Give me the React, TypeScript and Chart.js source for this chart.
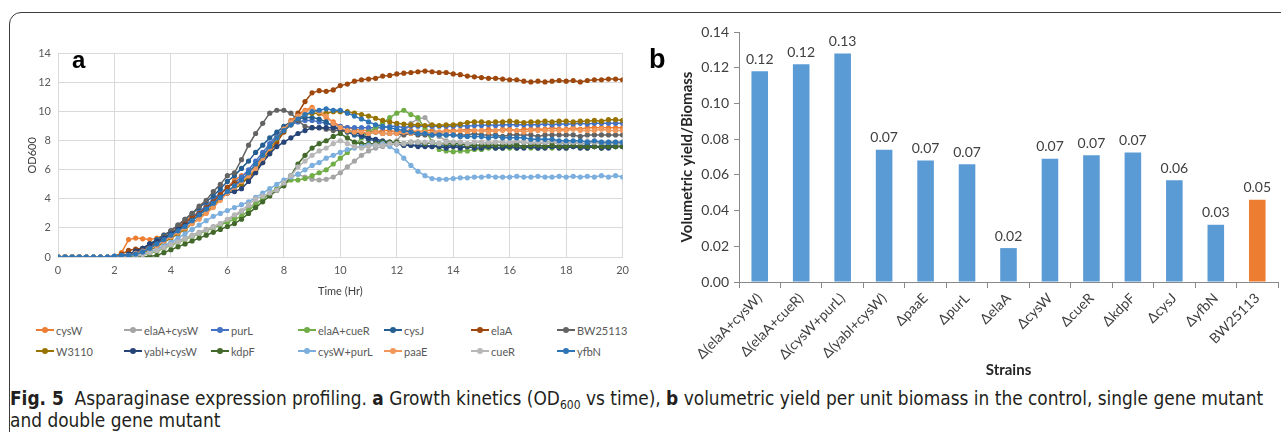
import React, { useEffect, useRef } from "react";
import { Chart, registerables } from "chart.js";
Chart.register(...registerables);

// ---------- Panel a: growth kinetics ----------
const TIME_HR = [
  0, 0.25, 0.5, 0.75, 1, 1.25, 1.5, 1.75,
  2, 2.25, 2.5, 2.75, 3, 3.25, 3.5, 3.75,
  4, 4.25, 4.5, 4.75, 5, 5.25, 5.5, 5.75,
  6, 6.25, 6.5, 6.75, 7, 7.25, 7.5, 7.75,
  8, 8.25, 8.5, 8.75, 9, 9.25, 9.5, 9.75,
  10, 10.25, 10.5, 10.75, 11, 11.25, 11.5, 11.75,
  12, 12.25, 12.5, 12.75, 13, 13.25, 13.5, 13.75,
  14, 14.25, 14.5, 14.75, 15, 15.25, 15.5, 15.75,
  16, 16.25, 16.5, 16.75, 17, 17.25, 17.5, 17.75,
  18, 18.25, 18.5, 18.75, 19, 19.25, 19.5, 19.75,
  20,
];

const OD_CYSW = [
  0, 0, 0, 0, 0, 0, 0, 0,
  0, 0.3, 1.2, 1.3, 1.25, 1.2, 1.3, 1.5,
  1.8, 2.1, 2.5, 2.8, 3.1, 3.5, 3.9, 4.3,
  4.8, 5.3, 5.6, 5.8, 6.3, 6.9, 7.6, 8.3,
  8.9, 9.4, 9.8, 10.1, 10.3, 9.9, 9.6, 9.3,
  9.0, 8.9, 8.8, 8.7, 8.7, 8.6, 8.7, 8.7,
  8.6, 8.7, 8.7, 8.6, 8.7, 8.7, 8.6, 8.7,
  8.7, 8.7, 8.8, 8.7, 8.7, 8.8, 8.7, 8.8,
  8.8, 8.7, 8.8, 8.8, 8.8, 8.8, 8.9, 8.8,
  8.8, 8.9, 8.8, 8.9, 8.9, 8.9, 8.9, 8.9,
  8.9,
];
const OD_ELAA_CYSW = [
  0, 0, 0, 0, 0, 0, 0, 0,
  0.05, 0.05, 0.1, 0.15, 0.2, 0.35, 0.5, 0.7,
  0.9, 1.1, 1.3, 1.5, 1.7, 1.9, 2.1, 2.3,
  2.5, 2.8, 3.1, 3.4, 3.7, 4.0, 4.3, 4.6,
  5.0, 5.5, 5.7, 5.5, 5.35, 5.3, 5.35, 5.5,
  5.8, 6.2, 6.6, 7.0, 7.3, 7.5, 7.6, 7.7,
  8.0, 8.6, 9.2, 9.5, 9.6, 9.0, 8.3, 8.0,
  7.9, 7.9, 7.8, 7.9, 7.9, 7.8, 7.9, 7.9,
  7.8, 7.9, 7.9, 7.8, 7.9, 7.8, 7.9, 7.8,
  7.8, 7.9, 7.8, 7.8, 7.9, 7.8, 7.8, 7.8,
  7.8,
];
const OD_PURL = [
  0, 0, 0, 0, 0, 0, 0, 0,
  0.05, 0.1, 0.15, 0.3, 0.5, 0.7, 1.0, 1.3,
  1.6, 1.9, 2.3, 2.7, 3.1, 3.5, 4.0, 4.4,
  4.8, 5.1, 5.5, 6.0, 6.6, 7.2, 7.8, 8.4,
  8.8, 9.1, 9.3, 9.4, 9.4, 9.3, 9.2, 9.1,
  9.0, 8.9, 8.9, 8.9, 8.9, 8.9, 8.9, 9.0,
  9.0, 8.9, 9.0, 9.0, 9.0, 9.0, 9.0, 9.0,
  9.0, 9.05, 9.0, 9.05, 9.05, 9.1, 9.05, 9.1,
  9.1, 9.1, 9.1, 9.1, 9.1, 9.15, 9.1, 9.15,
  9.15, 9.15, 9.2, 9.15, 9.2, 9.2, 9.2, 9.2,
  9.2,
];
const OD_ELAA_CUER = [
  0, 0, 0, 0, 0, 0, 0, 0,
  0, 0, 0.05, 0.1, 0.15, 0.25, 0.4, 0.6,
  0.8, 1.0, 1.2, 1.4, 1.6, 1.8, 2.0, 2.2,
  2.4, 2.6, 2.8, 3.2, 3.6, 4.0, 4.4, 4.7,
  5.0, 5.3, 5.3, 5.4, 5.6, 5.8, 6.0, 6.4,
  6.8, 7.2, 7.6, 8.2, 8.6, 8.9, 9.2, 9.6,
  9.9, 10.1, 9.8, 9.6, 8.8, 7.9, 7.4, 7.3,
  7.25, 7.3, 7.3, 7.4, 7.4, 7.5, 7.5, 7.5,
  7.5, 7.5, 7.6, 7.5, 7.5, 7.6, 7.5, 7.6,
  7.5, 7.6, 7.6, 7.5, 7.6, 7.5, 7.6, 7.6,
  7.6,
];
const OD_CYSJ = [
  0, 0, 0, 0, 0, 0, 0, 0,
  0.05, 0.1, 0.2, 0.4, 0.6, 0.9, 1.2, 1.5,
  1.8, 2.2, 2.6, 3.0, 3.4, 3.8, 4.2, 4.7,
  5.2, 5.6, 6.1, 6.6, 7.2, 7.7, 8.2, 8.6,
  9.0, 9.3, 9.5, 9.6, 9.6, 9.5, 9.3, 9.0,
  8.8, 8.6, 8.4, 8.3, 8.1, 8.0, 7.9, 7.8,
  7.8, 7.7, 7.7, 7.7, 7.7, 7.6, 7.7, 7.6,
  7.7, 7.6, 7.6, 7.7, 7.6, 7.6, 7.7, 7.6,
  7.6, 7.7, 7.6, 7.6, 7.7, 7.6, 7.6, 7.6,
  7.7, 7.6, 7.6, 7.7, 7.6, 7.6, 7.7, 7.6,
  7.6,
];
const OD_ELAA = [
  0, 0, 0, 0, 0, 0, 0, 0,
  0.05, 0.2, 0.45, 0.55, 0.6, 0.8, 1.0, 1.3,
  1.6, 2.0, 2.4, 2.7, 3.0, 3.4, 3.8, 4.3,
  4.8, 5.1, 5.2, 5.4, 5.9, 6.5, 7.2, 7.9,
  8.6, 9.2, 9.9, 10.7, 11.3, 11.45, 11.4, 11.5,
  11.8, 11.9, 12.1, 12.2, 12.25, 12.3, 12.45, 12.5,
  12.6, 12.65, 12.7, 12.75, 12.8, 12.75, 12.7, 12.7,
  12.6, 12.55, 12.45, 12.4, 12.35, 12.3, 12.3, 12.25,
  12.2, 12.2, 12.1, 12.05, 12.1, 12.05, 12.1, 12.15,
  12.1, 12.15, 12.05, 12.15, 12.2, 12.2, 12.25, 12.25,
  12.2,
];
const OD_BW25113 = [
  0, 0, 0, 0, 0, 0, 0, 0,
  0.05, 0.1, 0.15, 0.3, 0.5, 0.8, 1.1, 1.4,
  1.8, 2.2, 2.6, 3.0, 3.5, 3.9, 4.5, 5.0,
  5.6, 5.8, 6.7, 7.7, 8.5, 9.2, 9.9, 10.1,
  10.1, 9.9, 9.4, 9.0, 8.9, 8.9, 8.8, 8.7,
  8.7, 8.6, 8.6, 8.5, 8.5, 8.6, 8.5, 8.5,
  8.5, 8.4, 8.5, 8.4, 8.4, 8.4, 8.5, 8.4,
  8.4, 8.4, 8.4, 8.5, 8.4, 8.4, 8.4, 8.3,
  8.4, 8.4, 8.4, 8.4, 8.3, 8.4, 8.4, 8.4,
  8.4, 8.4, 8.3, 8.4, 8.4, 8.4, 8.4, 8.4,
  8.4,
];
const OD_W3110 = [
  0, 0, 0, 0, 0, 0, 0, 0,
  0, 0.05, 0.1, 0.2, 0.3, 0.5, 0.7, 1.0,
  1.3, 1.6, 1.9, 2.3, 2.7, 3.1, 3.5, 4.0,
  4.4, 4.7, 5.0, 5.5, 6.0, 6.7, 7.4, 8.1,
  8.7, 9.1, 9.5, 9.8, 9.9, 9.9, 9.9, 10.0,
  10.0, 10.0, 9.9, 9.8, 9.7, 9.55, 9.4, 9.3,
  9.2, 9.15, 9.1, 9.1, 9.05, 9.1, 9.05, 9.1,
  9.1, 9.15, 9.25, 9.3, 9.3, 9.25, 9.3, 9.3,
  9.35, 9.3, 9.25, 9.3, 9.3, 9.35, 9.3, 9.35,
  9.35, 9.3, 9.35, 9.35, 9.4, 9.35, 9.45, 9.45,
  9.4,
];
const OD_YABI_CYSW = [
  0, 0, 0, 0, 0, 0, 0, 0,
  0.05, 0.1, 0.2, 0.4, 0.6, 0.9, 1.1, 1.3,
  1.6, 1.9, 2.2, 2.5, 2.9, 3.3, 3.7, 4.1,
  4.4, 4.5, 4.7, 5.2, 5.8, 6.5, 7.1, 7.6,
  7.9, 8.2, 8.5, 8.7, 8.9, 8.9, 8.9, 8.9,
  8.8, 8.7, 8.6, 8.4, 8.2, 8.1, 8.0, 7.9,
  7.8, 7.7, 7.7, 7.6, 7.6, 7.6, 7.6, 7.5,
  7.6, 7.5, 7.6, 7.5, 7.5, 7.6, 7.5, 7.5,
  7.6, 7.5, 7.5, 7.6, 7.5, 7.5, 7.6, 7.5,
  7.5, 7.6, 7.5, 7.5, 7.6, 7.5, 7.5, 7.6,
  7.6,
];
const OD_KDPF = [
  0, 0, 0, 0, 0, 0, 0, 0,
  0, 0, 0, 0, 0, 0.05, 0.1, 0.3,
  0.5, 0.7, 0.9, 1.1, 1.3, 1.5, 1.7, 1.9,
  2.1, 2.3, 2.6, 3.0, 3.4, 3.8, 4.2, 4.6,
  4.9, 5.6, 6.4, 7.0, 7.5, 7.8, 8.0, 8.3,
  8.5, 8.2, 7.9, 7.8, 7.8, 7.8, 7.9, 7.9,
  7.9, 7.8, 7.9, 7.9, 7.8, 7.9, 7.8, 7.8,
  7.8, 7.8, 7.7, 7.7, 7.7, 7.7, 7.7, 7.7,
  7.7, 7.7, 7.6, 7.7, 7.7, 7.6, 7.7, 7.6,
  7.6, 7.7, 7.6, 7.6, 7.6, 7.6, 7.6, 7.6,
  7.6,
];
const OD_CYSW_PURL = [
  0, 0, 0, 0, 0, 0, 0, 0,
  0.05, 0.1, 0.1, 0.15, 0.2, 0.35, 0.55, 0.8,
  1.0, 1.3, 1.6, 1.9, 2.2, 2.5, 2.8, 3.0,
  3.2, 3.4, 3.6, 3.8, 4.1, 4.4, 4.7, 5.0,
  5.3, 5.5, 5.7, 6.0, 6.3, 6.5, 6.8, 7.0,
  7.2, 7.4, 7.5, 7.6, 7.7, 7.7, 7.8, 7.6,
  7.3, 6.8, 6.3, 5.9, 5.6, 5.4, 5.35, 5.35,
  5.4, 5.45, 5.45, 5.5, 5.5, 5.55, 5.5, 5.5,
  5.5, 5.55, 5.5, 5.5, 5.55, 5.5, 5.5, 5.55,
  5.5, 5.55, 5.5, 5.55, 5.5, 5.6, 5.5, 5.6,
  5.5,
];
const OD_PAAE = [
  0, 0, 0, 0, 0, 0, 0, 0,
  0, 0.05, 0.1, 0.25, 0.4, 0.6, 0.8, 1.1,
  1.4, 1.7, 2.0, 2.3, 2.6, 3.0, 3.4, 3.9,
  4.4, 4.8, 5.2, 5.6, 6.1, 6.8, 7.5, 8.2,
  8.8, 9.3, 9.7, 10.0, 10.2, 10.0, 9.7, 9.2,
  8.9, 8.7, 8.6, 8.6, 8.5, 8.6, 8.5, 8.5,
  8.5, 8.6, 8.5, 8.6, 8.6, 8.5, 8.6, 8.6,
  8.6, 8.7, 8.6, 8.7, 8.7, 8.6, 8.7, 8.7,
  8.7, 8.7, 8.6, 8.7, 8.7, 8.7, 8.7, 8.7,
  8.7, 8.8, 8.7, 8.7, 8.7, 8.8, 8.7, 8.7,
  8.7,
];
const OD_CUER = [
  0, 0, 0, 0, 0, 0, 0, 0,
  0.05, 0.05, 0.1, 0.1, 0.15, 0.3, 0.45, 0.65,
  0.85, 1.05, 1.25, 1.45, 1.65, 1.85, 2.05, 2.3,
  2.6, 2.9, 3.2, 3.6, 4.0, 4.2, 4.4, 4.6,
  5.1, 5.6, 6.2, 6.6, 7.0, 7.3, 7.5, 7.8,
  8.0, 7.8, 7.6, 7.5, 7.6, 7.7, 7.7, 7.8,
  7.8, 7.8, 7.9, 7.9, 7.9, 7.9, 7.8, 7.9,
  7.9, 7.9, 7.8, 7.9, 7.9, 7.9, 7.9, 7.9,
  7.9, 8.0, 7.9, 7.9, 7.9, 7.9, 8.0, 7.9,
  7.9, 7.9, 7.9, 8.0, 7.9, 7.9, 7.9, 7.9,
  7.9,
];
const OD_YFBN = [
  0, 0, 0, 0, 0, 0, 0, 0,
  0.05, 0.1, 0.1, 0.2, 0.35, 0.6, 0.9, 1.2,
  1.5, 1.8, 2.1, 2.5, 2.9, 3.3, 3.7, 4.1,
  4.5, 4.9, 5.3, 5.8, 6.4, 7.0, 7.6, 8.2,
  8.7, 9.1, 9.5, 9.8, 10.0, 10.1, 10.2, 10.1,
  10.1, 9.9, 9.7, 9.5, 9.3, 9.1, 9.0, 8.9,
  8.8, 8.7, 8.6, 8.5, 8.5, 8.4, 8.4, 8.4,
  8.4, 8.3, 8.3, 8.3, 8.3, 8.2, 8.3, 8.2,
  8.2, 8.2, 8.2, 8.1, 8.1, 8.1, 8.1, 8.0,
  8.0, 8.0, 8.0, 7.9, 8.0, 7.9, 7.9, 7.9,
  7.9,
];

const SERIES_NAMES = [
  "cysW", "elaA+cysW", "purL", "elaA+cueR", "cysJ", "elaA", "BW25113",
  "W3110", "yabI+cysW", "kdpF", "cysW+purL", "paaE", "cueR", "yfbN",
];
const SERIES_VALUES = [
  OD_CYSW, OD_ELAA_CYSW, OD_PURL, OD_ELAA_CUER, OD_CYSJ, OD_ELAA, OD_BW25113,
  OD_W3110, OD_YABI_CYSW, OD_KDPF, OD_CYSW_PURL, OD_PAAE, OD_CUER, OD_YFBN,
];
const SERIES_COLORS = [
  "#ED7D31", "#A5A5A5", "#4472C4", "#70AD47", "#255E91", "#9E480E", "#636363",
  "#997300", "#264478", "#43682B", "#7CAFDD", "#F1975A", "#B7B7B7", "#2E75B6",
];
const X_TICKS_A = [0, 2, 4, 6, 8, 10, 12, 14, 16, 18, 20];
const Y_TICKS_A = [0, 2, 4, 6, 8, 10, 12, 14];

// ---------- Panel b: volumetric yield / biomass ----------
const STRAINS = [
  "Δ(elaA+cysW)", "Δ(elaA+cueR)", "Δ(cysW+purL)", "Δ(yabI+cysW)", "ΔpaaE",
  "ΔpurL", "ΔelaA", "ΔcysW", "ΔcueR", "ΔkdpF", "ΔcysJ", "ΔyfbN", "BW25113",
];
const YIELD = [
  0.118, 0.122, 0.128, 0.074, 0.068, 0.066, 0.019, 0.069, 0.071, 0.0725,
  0.057, 0.032, 0.046,
];
const BAR_COLORS = [
  "#5B9BD5", "#5B9BD5", "#5B9BD5", "#5B9BD5", "#5B9BD5", "#5B9BD5", "#5B9BD5",
  "#5B9BD5", "#5B9BD5", "#5B9BD5", "#5B9BD5", "#5B9BD5", "#ED7D31",
];
const Y_TICKS_B = [0, 0.02, 0.04, 0.06, 0.08, 0.1, 0.12, 0.14];

const TICK_FONT = "Lato, 'Open Sans', sans-serif";

const barLabelPlugin = {
  id: "barLabels",
  afterDatasetsDraw(chart: any) {
    const ctx = chart.ctx;
    const meta = chart.getDatasetMeta(0);
    ctx.save();
    ctx.font = `14px ${TICK_FONT}`;
    ctx.fillStyle = "#404040";
    ctx.textAlign = "center";
    ctx.textBaseline = "bottom";
    meta.data.forEach((el: any, i: number) => {
      ctx.fillText(YIELD[i].toFixed(2), el.x, el.y - 5);
    });
    ctx.restore();
  },
};

function GrowthChart() {
  const ref = useRef<HTMLCanvasElement | null>(null);
  useEffect(() => {
    if (!ref.current) return;
    const datasets = SERIES_NAMES.map((name, i) => ({
      label: name,
      data: TIME_HR.map((t, j) => ({ x: t, y: SERIES_VALUES[i][j] })),
      borderColor: SERIES_COLORS[i],
      backgroundColor: SERIES_COLORS[i],
      pointBackgroundColor: SERIES_COLORS[i],
      pointBorderColor: SERIES_COLORS[i],
      pointRadius: 2.6,
      pointBorderWidth: 0,
      borderWidth: 1.5,
      tension: 0,
      order: -i,
    }));
    const chart = new Chart(ref.current, {
      type: "line",
      data: { datasets },
      options: {
        animation: false,
        responsive: false,
        layout: { padding: { top: 9, right: 12, left: 0, bottom: 0 } },
        plugins: { legend: { display: false }, tooltip: { enabled: false } },
        scales: {
          x: {
            type: "linear",
            min: 0,
            max: 20,
            afterBuildTicks: (s: any) => {
              s.ticks = X_TICKS_A.map((v) => ({ value: v }));
            },
            afterFit: (s: any) => {
              s.height = 45;
            },
            grid: { color: "#D9D9D9", drawTicks: false },
            border: { color: "#D9D9D9" },
            ticks: { padding: 7, color: "#595959", font: { size: 11, family: TICK_FONT } },
            title: { display: true, text: "Time (Hr)", color: "#404040", font: { size: 11, family: TICK_FONT } },
          },
          y: {
            min: 0,
            max: 14,
            afterBuildTicks: (s: any) => {
              s.ticks = Y_TICKS_A.map((v) => ({ value: v }));
            },
            afterFit: (s: any) => {
              s.width = 36;
            },
            grid: { color: "#D9D9D9", drawTicks: false },
            border: { color: "#D9D9D9" },
            ticks: { padding: 7, color: "#595959", font: { size: 11, family: TICK_FONT } },
            title: { display: true, text: "OD600", color: "#404040", font: { size: 11, family: TICK_FONT } },
          },
        },
      },
    } as any);
    return () => chart.destroy();
  }, []);
  return (
    <canvas
      ref={ref}
      width={614}
      height={262}
      style={{ position: "absolute", left: 22, top: 40, width: 614, height: 262 }}
    />
  );
}

function YieldChart() {
  const ref = useRef<HTMLCanvasElement | null>(null);
  useEffect(() => {
    if (!ref.current) return;
    const chart = new Chart(ref.current, {
      type: "bar",
      data: {
        labels: STRAINS,
        datasets: [
          {
            data: YIELD,
            backgroundColor: BAR_COLORS,
            borderWidth: 0,
            barPercentage: 0.8,
            categoryPercentage: 0.5,
          },
        ],
      },
      options: {
        animation: false,
        responsive: false,
        layout: { padding: { top: 22, right: 3, left: 24, bottom: 0 } },
        plugins: { legend: { display: false }, tooltip: { enabled: false } },
        scales: {
          x: {
            afterFit: (s: any) => {
              s.height = 101;
            },
            grid: { drawOnChartArea: false, drawTicks: true, tickLength: 6, color: "#898989", offset: true },
            border: { color: "#898989" },
            ticks: {
              maxRotation: 45,
              minRotation: 45,
              padding: 2,
              color: "#404040",
              font: { size: 14, family: TICK_FONT },
            },
            title: { display: true, text: "Strains", color: "#262626", font: { size: 15, weight: "bold", family: TICK_FONT } },
          },
          y: {
            min: 0,
            max: 0.14,
            afterBuildTicks: (s: any) => {
              s.ticks = Y_TICKS_B.map((v) => ({ value: v }));
            },
            afterFit: (s: any) => {
              s.width = 65;
            },
            grid: { drawOnChartArea: false, drawTicks: true, tickLength: 5, color: "#898989" },
            border: { color: "#898989" },
            ticks: {
              padding: 5,
              color: "#404040",
              font: { size: 14, family: TICK_FONT },
              callback: (v: any) => Number(v).toFixed(2),
            },
            title: {
              display: true,
              text: "Volumetric yield/Biomass",
              color: "#262626",
              font: { size: 15, weight: "bold", family: TICK_FONT },
            },
          },
        },
      },
      plugins: [barLabelPlugin],
    } as any);
    return () => chart.destroy();
  }, []);
  return (
    <canvas
      ref={ref}
      width={631}
      height={373}
      style={{ position: "absolute", left: 650, top: 10, width: 631, height: 373 }}
    />
  );
}

const LEGEND_COL_X = [36, 124, 211, 298, 384, 471, 557];
const LEGEND_ROW_Y = [330, 351];

function Legend() {
  return (
    <>
      {SERIES_NAMES.map((name, i) => {
        const col = i % 7;
        const row = Math.floor(i / 7);
        return (
          <div
            key={name}
            style={{
              position: "absolute",
              left: LEGEND_COL_X[col],
              top: LEGEND_ROW_Y[row] - 8,
              height: 16,
              display: "flex",
              alignItems: "center",
              whiteSpace: "nowrap",
              fontFamily: TICK_FONT,
              fontSize: 11,
              color: "#595959",
            }}
          >
            <div style={{ position: "relative", width: 18, height: 16, marginRight: 2 }}>
              <div
                style={{
                  position: "absolute",
                  left: 0,
                  top: 7,
                  width: 18,
                  height: 2,
                  background: SERIES_COLORS[i],
                }}
              />
              <div
                style={{
                  position: "absolute",
                  left: 6,
                  top: 5,
                  width: 6,
                  height: 6,
                  borderRadius: 3,
                  background: SERIES_COLORS[i],
                }}
              />
            </div>
            {name}
          </div>
        );
      })}
    </>
  );
}

export default function App() {
  return (
    <div
      style={{
        position: "absolute",
        left: 0,
        top: 0,
        width: 1281,
        height: 432,
        overflow: "hidden",
        background: "#ffffff",
      }}
    >
      <div
        style={{
          position: "absolute",
          left: 9,
          top: 12,
          width: 1300,
          height: 460,
          border: "1.5px solid #3c3c3c",
          borderRadius: 12,
          boxSizing: "border-box",
        }}
      />
      <GrowthChart />
      <YieldChart />
      <div
        style={{
          position: "absolute",
          left: 72,
          top: 46,
          fontFamily: "'Liberation Sans', Arial, sans-serif",
          fontWeight: "bold",
          fontSize: 24,
          color: "#000",
        }}
      >
        a
      </div>
      <div
        style={{
          position: "absolute",
          left: 649,
          top: 44,
          fontFamily: "'Liberation Sans', Arial, sans-serif",
          fontWeight: "bold",
          fontSize: 27,
          color: "#000",
        }}
      >
        b
      </div>
      <Legend />
      <div
        style={{
          position: "absolute",
          left: 10,
          top: 387,
          fontFamily: "'DejaVu Sans Condensed', 'Liberation Sans Narrow', sans-serif",
          fontSize: 18.9,
          lineHeight: "22px",
          color: "#231F20",
          whiteSpace: "nowrap",
        }}
      >
        <div>
          <b>Fig. 5</b>&nbsp;&nbsp;Asparaginase expression profiling. <b>a</b> Growth kinetics (OD
          <sub style={{ fontSize: 12, verticalAlign: "-4px", lineHeight: 0 }}>600</sub> vs time), <b>b</b>{" "}
          volumetric yield per unit biomass in the control, single gene mutant
        </div>
        <div>and double gene mutant</div>
      </div>
    </div>
  );
}
